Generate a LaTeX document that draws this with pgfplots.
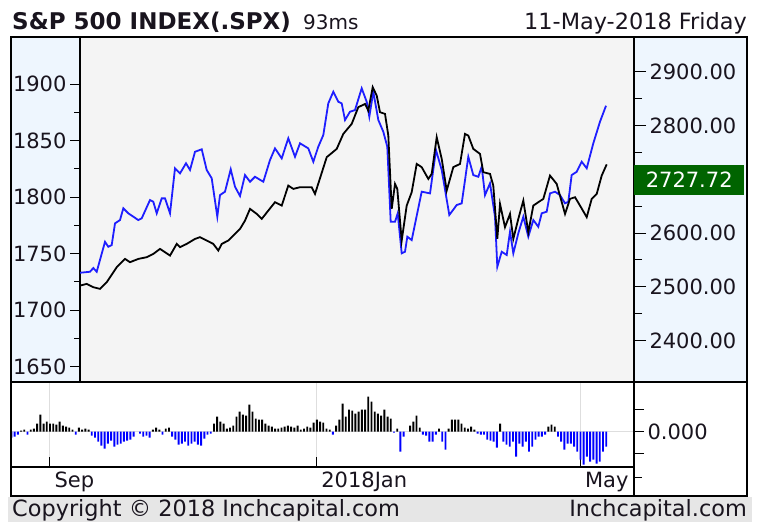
\documentclass[border=0pt]{standalone}
\usepackage{pgfplots}
\pgfplotsset{compat=1.18}
\usepackage{pgfplotstable}
\usepackage{fontspec}
\setmainfont{DejaVu Sans}
\definecolor{panelblue}{RGB}{238,246,254}
\definecolor{plotgray}{RGB}{244,244,244}
\definecolor{footgray}{RGB}{230,230,230}
\definecolor{lineblue}{RGB}{30,30,255}
\definecolor{boxgreen}{RGB}{0,100,0}
\definecolor{gridgray}{RGB}{222,222,222}
\definecolor{txt}{RGB}{25,20,30}
\newcommand\chartfont{\fontsize{21bp}{25bp}\selectfont}
\newcommand\bigfont{\fontsize{22.4bp}{26bp}\selectfont}

\pgfplotstableread{
t v
9.33 1733.1
12.44 1734.0
13.47 1737.3
14.53 1734.0
17.11 1760.5
18.13 1756.1
19.19 1757.6
20.22 1776.8
21.77 1779.7
22.80 1790.1
24.35 1785.7
27.47 1779.7
28.52 1781.2
31.10 1797.4
32.13 1795.9
33.19 1785.7
34.74 1798.9
35.77 1798.9
37.33 1785.7
38.88 1825.5
40.44 1821.0
42.30 1829.9
43.55 1824.0
45.10 1840.1
47.19 1842.3
48.74 1824.0
50.30 1816.6
52.04 1782.7
52.88 1801.8
54.43 1804.8
56.21 1824.6
57.54 1809.2
59.10 1801.0
60.65 1819.5
62.21 1813.6
63.76 1818.0
66.35 1813.6
68.43 1832.8
69.98 1843.1
72.07 1834.3
74.12 1852.0
76.21 1835.7
77.76 1847.6
80.34 1843.1
81.90 1831.3
83.45 1844.6
85.01 1854.9
86.56 1882.9
88.12 1893.2
89.67 1884.3
90.73 1882.9
91.76 1868.2
93.31 1875.5
94.87 1877.0
96.95 1896.2
98.51 1884.3
99.32 1871.1
100.56 1893.2
102.12 1868.2
103.67 1857.8
104.91 1844.6
105.97 1778.2
107.31 1778.2
108.15 1785.7
109.39 1750.3
110.42 1751.7
111.14 1765.0
112.50 1762.0
115.61 1804.8
118.20 1803.3
120.06 1841.6
121.84 1824.0
124.20 1784.2
126.50 1793.0
128.06 1794.5
130.11 1835.7
131.66 1819.5
133.22 1818.0
134.28 1826.9
135.30 1801.8
136.86 1812.2
138.41 1782.7
139.13 1738.4
140.50 1751.7
142.05 1748.8
143.08 1769.4
144.11 1750.3
145.66 1768.0
147.22 1782.7
148.77 1765.0
150.33 1779.7
151.88 1773.8
152.94 1785.7
154.49 1787.1
155.52 1803.3
157.08 1804.8
158.63 1801.8
160.19 1794.5
161.21 1795.9
162.26 1819.5
163.83 1822.4
165.38 1831.3
166.94 1825.5
168.99 1847.6
171.07 1866.7
172.94 1880.8
}\bluedata

\pgfplotstableread{
t v
9.33 2502.4
11.42 2505.6
13.47 2499.4
15.55 2496.3
17.64 2508.7
20.75 2536.6
23.33 2552.0
24.88 2545.9
27.47 2552.0
30.08 2555.2
32.13 2561.3
34.21 2570.6
35.77 2564.5
37.33 2558.2
39.41 2579.9
40.44 2573.8
42.52 2579.9
45.10 2589.2
46.66 2592.4
48.74 2586.1
50.79 2579.9
52.35 2567.5
53.41 2579.9
55.46 2586.1
57.54 2598.5
59.10 2607.8
60.65 2623.2
62.21 2645.0
64.29 2635.7
65.85 2626.4
67.90 2641.8
69.98 2657.4
72.07 2651.1
74.12 2688.3
75.68 2682.2
77.76 2685.3
81.40 2685.3
82.43 2672.9
86.07 2741.1
89.18 2756.5
91.23 2784.4
93.84 2803.0
95.89 2834.0
97.98 2840.1
99.00 2827.7
100.37 2871.2
101.62 2855.6
102.64 2824.7
104.20 2821.6
105.23 2781.2
106.28 2645.0
107.31 2691.4
108.02 2682.2
109.39 2586.1
110.95 2651.1
112.50 2676.0
114.06 2728.6
115.61 2722.5
117.67 2700.7
118.72 2710.0
120.28 2778.2
121.84 2737.9
123.39 2679.0
125.44 2722.5
127.53 2728.6
129.08 2784.4
130.11 2781.2
131.66 2756.5
133.75 2747.2
134.77 2713.2
136.86 2710.0
137.88 2688.3
139.13 2589.2
139.97 2654.3
141.52 2611.0
143.08 2635.7
144.11 2589.2
145.66 2626.4
147.22 2660.4
148.77 2601.7
150.33 2651.1
151.88 2657.4
153.44 2663.6
155.52 2706.9
157.60 2691.4
160.19 2635.7
161.74 2663.6
163.30 2666.7
164.85 2651.1
166.94 2629.6
168.49 2663.6
170.05 2672.9
171.60 2706.9
173.15 2727.7
}\blackdata

\pgfplotstableread{
t v
-12 -6
-11 -5
-10 -3
-9 1
-8 2
-7 -3
-6 2
-5 3
-4 8
-3 17
-2 8
-1 10
0 8
1 8
2 7
3 10
4 6
5 5
6 4
7 2
8 -3
9 4
10 2
11 3
12 2
13 -4
14 -6
15 -10
16 -14
17 -17
18 -12
19 -9
20 -15
21 -13
22 -12
23 -10
24 -9
25 -8
26 -5
27 0
28 -2
29 -5
30 -4
31 -6
32 2
33 4
34 2
35 -3
36 3
37 4
38 -5
39 -8
40 -13
41 -12
42 -10
43 -14
44 -12
45 -10
46 -13
47 -14
48 -7
49 -3
50 -2
51 8
52 15
53 10
54 8
55 3
56 4
57 6
58 15
59 20
60 17
61 16
62 27
63 20
64 13
65 12
66 12
67 8
68 6
69 5
70 3
71 3
72 4
73 5
74 6
75 5
76 4
77 6
78 2
79 3
80 5
81 4
82 9
83 12
84 10
85 9
86 3
87 2
88 -3
89 6
90 12
91 28
92 15
93 22
94 21
95 18
96 20
97 22
98 22
99 35
100 30
101 20
102 18
103 16
104 22
105 15
106 13
107 -1
108 3
109 -20
110 -5
111 0
112 6
113 10
114 16
115 4
116 -3
117 -4
118 -10
119 -10
120 -3
121 3
122 -10
123 -18
124 3
125 12
126 12
127 12
128 8
129 4
130 3
131 5
132 2
133 -2
134 -3
135 -3
136 -8
137 -9
138 -10
139 -16
140 8
141 -10
142 -13
143 -15
144 -10
145 -25
146 -12
147 -15
148 -10
149 -20
150 -15
151 -8
152 -5
153 -5
154 -3
155 5
156 7
157 5
158 -5
159 -10
160 -18
161 -12
162 -12
163 -15
164 -20
165 -28
166 -33
167 -25
168 -30
169 -28
170 -32
171 -30
172 -20
173 -15
}\histdata

\pgfplotsset{chartax/.style={
  scale only axis, anchor=south west,
  axis line style={black, line width=1.2bp},
  tick style={black, line width=1bp},
  ticklabel style={font=\chartfont, text=txt},
  /pgf/number format/assume math mode=true,
  /pgf/number format/1000 sep={},
}}

\begin{document}
\begin{tikzpicture}
\begin{scope}[x=1bp,y=1bp]
\path[use as bounding box] (0,0) rectangle (763,-522);
\fill[white] (0,0) rectangle (763,-522);
\fill[panelblue] (11,-37) rectangle (748,-382);
\fill[footgray] (8,-497) rectangle (752,-522);
\node[anchor=base west, inner sep=0, font=\fontsize{23bp}{27bp}\selectfont\bfseries, text=txt] at (12,-30) {S\&P 500 INDEX(.SPX)};
\node[anchor=base west, inner sep=0, font=\fontsize{20bp}{24bp}\selectfont, text=txt] at (303,-30) {93ms};
\node[anchor=base east, inner sep=0, font=\bigfont, text=txt] at (747,-30) {11-May-2018 Friday};
\node[anchor=base west, inner sep=0, font=\bigfont, text=txt] at (12,-516) {Copyright © 2018 Inchcapital.com};
\node[anchor=base east, inner sep=0, font=\bigfont, text=txt] at (747,-516) {Inchcapital.com};
\end{scope}

% main panel, left scale (blue line)
\begin{axis}[chartax, at={(80bp,-382bp)}, width=554bp, height=345bp,
  xmin=9.33, xmax=181.65, ymin=1636.5, ymax=1941.6,
  axis background/.style={fill=plotgray},
  xtick=\empty, ytick={1650,1700,...,1900}, minor y tick num=1,
  ytick pos=left, tick align=outside,
  major tick length=10bp, minor tick length=6bp,
  yticklabel style={anchor=east, xshift=0bp}]
\addplot[lineblue, line width=1.8bp] table {\bluedata};
\end{axis}

% main panel, right scale (black line)
\begin{axis}[chartax, at={(80bp,-382bp)}, width=554bp, height=345bp,
  xmin=9.33, xmax=181.65, ymin=2323.2, ymax=2964.5,
  axis x line=none, axis y line*=right,
  ytick={2400,2500,...,2900}, minor y tick num=1,
  yticklabels={2400.00,2500.00,2600.00,,2800.00,2900.00},
  tick align=outside, major tick length=12bp, minor tick length=8bp,
  yticklabel style={anchor=west},
  clip mode=individual]
\addplot[black, line width=1.8bp] table {\blackdata};
\node[fill=boxgreen, text=white, font=\chartfont, anchor=north west, minimum width=110bp, minimum height=30bp, inner sep=0pt] at (axis cs:181.65,2727.72) {2727.72};
\end{axis}

% lower histogram panel
\begin{axis}[chartax, at={(11bp,-467bp)}, width=623bp, height=85bp,
  xmin=-12.13, xmax=181.65, ymin=-35.3, ymax=49.7,
  axis background/.style={fill=white},
  xtick={0,83,165}, xticklabels={Sep,2018Jan,May}, xtick pos=bottom,
  xtick align=inside, ytick align=outside,
  xmajorgrids, ymajorgrids,
  ytick={0}, yticklabels={0.000}, ytick pos=right,
  extra y ticks={-22,22}, extra y tick labels={}, extra y tick style={grid=none},
  major grid style={gridgray, line width=1bp},
  major tick length=10bp,
  xticklabel style={anchor=base west, xshift=1bp, yshift=-20bp},
  yticklabel style={anchor=west}]
\addplot[ybar, bar width=1.9bp, bar shift=0pt, fill=black, draw=none, restrict y to domain=0.5:100] table {\histdata};
\addplot[ybar, bar width=1.9bp, bar shift=0pt, fill=blue, draw=none, restrict y to domain=-100:-0.5] table {\histdata};
\end{axis}

\begin{scope}[x=1bp,y=1bp]
\draw[line width=1.5bp] (11,-382) -- (748,-382);
\draw[line width=1.2bp] (634,-467) -- (634,-496);
\draw[line width=1bp] (634,-477) -- (642,-477);
\draw[line width=2bp] (11,-37) rectangle (747,-496);
\end{scope}
\end{tikzpicture}
\end{document}
